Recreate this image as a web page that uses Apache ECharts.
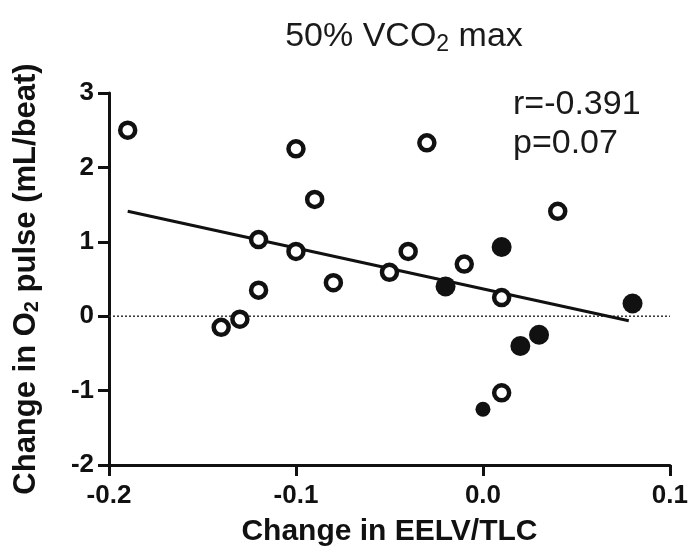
<!DOCTYPE html>
<html>
<head>
<meta charset="utf-8">
<script src="https://cdn.jsdelivr.net/npm/echarts@6/dist/echarts.min.js"></script>
<style>
html,body{margin:0;padding:0;background:#fff;}
#c{width:691px;height:552px;}
</style>
</head>
<body>
<div id="c"></div>
<script>
// ---- data ----
var openX  = [-0.19, -0.10, -0.03, -0.09, 0.04, -0.12, -0.10, -0.12, -0.14, -0.13, -0.08, -0.04, -0.05, -0.01, 0.01, 0.01];
var openY  = [ 2.50,  2.25,  2.33,  1.57, 1.41,  1.03,  0.87,  0.35, -0.15, -0.04,  0.45,  0.87,  0.59,  0.70, 0.25, -1.03];
var filledX = [-0.02, 0.01, 0.08, 0.02, 0.03];
var filledY = [ 0.40, 0.93, 0.17, -0.40, -0.25];
var smallX = [0.00];
var smallY = [-1.25];
var fitX = [-0.19, 0.078];
var fitY = [1.41, -0.06];
var zeroX = [-0.2, 0.1];
var zeroY = [0, 0];
var xTicks = {min: -0.2, max: 0.1, interval: 0.1};
var yTicks = {min: -2, max: 3, interval: 1};
var titleText = '50% VCO{sub|2} max';
var xName = 'Change in EELV/TLC';
var yName = 'Change in O{sub|2} pulse (mL/beat)';
var statLines = ['r=-0.391', 'p=0.07'];

function pairs(xs, ys){ return xs.map(function(x,i){ return [x, ys[i]]; }); }

var FONT = '"Liberation Sans", Arial, Helvetica, sans-serif';
var chart = echarts.init(document.getElementById('c'), null, {renderer:'canvas'});
chart.setOption({
  backgroundColor: '#ffffff',
  animation: false,
  title: {
    text: titleText,
    left: 399, top: 13, textAlign: 'center',
    textStyle: {
      fontFamily: FONT, fontSize: 34, fontWeight: 'normal', color: '#1a1a1a',
      rich: { sub: {fontFamily: FONT, fontSize: 23, color:'#1a1a1a', verticalAlign:'bottom', padding:[15,0,0,0]} }
    }
  },
  grid: {left: 109, right: 19, top: 93, bottom: 87, containLabel: false},
  xAxis: {
    type: 'value', min: xTicks.min, max: xTicks.max, interval: xTicks.interval,
    name: xName, nameLocation: 'middle', nameGap: 52,
    nameTextStyle: {fontFamily: FONT, fontSize: 30, fontWeight: 'bold', color: '#111'},
    axisLine: {show: true, onZero: false, lineStyle: {color: '#111', width: 3}},
    axisTick: {show: true, length: 11, lineStyle: {color: '#111', width: 3}},
    axisLabel: {
      fontFamily: FONT, fontSize: 26, fontWeight: 'bold', color: '#111', margin: 18,
      formatter: function(v){ return Math.abs(v) < 1e-9 ? '0.0' : v.toFixed(1); }
    },
    splitLine: {show: false}
  },
  yAxis: {
    type: 'value', min: yTicks.min, max: yTicks.max, interval: yTicks.interval,
    name: yName, nameLocation: 'middle', nameGap: 67,
    nameTextStyle: {
      fontFamily: FONT, fontSize: 31, fontWeight: 'bold', color: '#111',
      rich: { sub: {fontFamily: FONT, fontSize: 20, fontWeight:'bold', color:'#111', verticalAlign:'bottom', padding:[11,0,0,0]} }
    },
    axisLine: {show: true, onZero: false, lineStyle: {color: '#111', width: 3}},
    axisTick: {show: true, length: 11, lineStyle: {color: '#111', width: 3}},
    axisLabel: {fontFamily: FONT, fontSize: 26, fontWeight: 'bold', color: '#111', margin: 15},
    splitLine: {show: false}
  },
  graphic: [
    {type: 'text', left: 513, top: 88, style: {text: statLines[0], font: '34px ' + FONT, fill: '#1a1a1a'}},
    {type: 'text', left: 513, top: 127, style: {text: statLines[1], font: '34px ' + FONT, fill: '#1a1a1a'}}
  ],
  series: [
    {
      type: 'line', data: pairs(zeroX, zeroY), symbol: 'none', silent: true, z: 1,
      lineStyle: {color: '#333', width: 1.5, type: [2, 2]}
    },
    {
      type: 'line', data: pairs(fitX, fitY), symbol: 'none', silent: true, z: 2,
      lineStyle: {color: '#111', width: 3}
    },
    {
      type: 'scatter', data: pairs(openX, openY), symbol: 'circle', symbolSize: 15, z: 3,
      itemStyle: {color: '#ffffff', borderColor: '#111', borderWidth: 4.5, opacity: 1}
    },
    {
      type: 'scatter', data: pairs(filledX, filledY), symbol: 'circle', symbolSize: 20, z: 3,
      itemStyle: {color: '#111', opacity: 1}
    },
    {
      type: 'scatter', data: pairs(smallX, smallY), symbol: 'circle', symbolSize: 15, z: 3,
      itemStyle: {color: '#111', opacity: 1}
    }
  ]
});
</script>
</body>
</html>
